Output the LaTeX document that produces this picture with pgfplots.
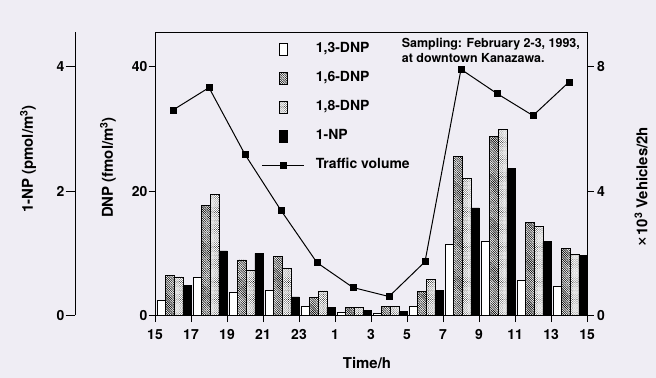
\documentclass[border=0pt]{standalone}
\usepackage{fontspec}
\setmainfont{TeX Gyre Heros}
\usepackage{pgfplots}
\usepackage{pgfplotstable}
\pgfplotsset{compat=1.18}
\usetikzlibrary{patterns.meta}
\definecolor{bg}{RGB}{239,237,244}

% t = start of 2-h interval (h after 15:00); DNP in fmol/m3, 1-NP in pmol/m3
\pgfplotstableread{
t  d13  d16  d18  np
0  2.4  6.5  6.2  0.49
2  6.1  17.7 19.5 1.04
4  3.8  8.95 7.25 1.00
6  4.1  9.5  7.55 0.30
8  1.4  2.95 3.95 0.134
10 0.45 1.35 1.35 0.08
12 0.35 1.5  1.4  0.064
14 1.4  3.9  5.8  0.40
16 11.5 25.6 22.0 1.73
18 11.9 28.8 29.9 2.36
20 5.6  15.0 14.4 1.19
22 4.7  10.8 9.8  0.965
}\bars

% traffic volume, x10^3 vehicles / 2 h
\pgfplotstableread{
t  veh
1  6.61
3  7.33
5  5.18
7  3.38
9  1.70
11 0.90
13 0.61
15 1.73
17 7.92
19 7.14
21 6.43
23 7.51
}\traffic

\tikzset{lblfont/.style={font=\fontsize{15}{18}\selectfont\bfseries}}
\pgfplotsset{
  common/.style={scale only axis, width=432bp, height=283.5bp, anchor=south west,
    tick align=outside, axis line style={line width=0.8bp},
    every tick/.style={black,line width=0.8bp},
    tick label style={font=\fontsize{14}{16}\selectfont\bfseries},
    /pgf/number format/assume math mode=true,
    xmin=0, xmax=24, minor tick num=0},
  sqimg/.style={legend image code/.code={\draw[##1] (-4bp,-6bp) rectangle (4bp,6bp);}},
  lineimg/.style={legend image code/.code={\draw[mark repeat=2,mark phase=2,##1] plot coordinates {(-21bp,0bp)(0bp,0bp)(21bp,0bp)};}},
}

\begin{document}
\begin{tikzpicture}
\fill[bg] (0,0) rectangle (656bp,378bp);
% 1-NP axis (far left)
\begin{axis}[common, at={(75bp,62.5bp)}, axis x line=none, axis y line*=left,
  ymin=0, ymax=4.56, ytick={0,2,4}, major tick length=9.5bp,
  yticklabel style={inner sep=1bp},
  ylabel={1-NP (pmol/m\textsuperscript{3})},
  every axis y label/.style={at={(axis description cs:-0.1088,0.552)}, rotate=90, anchor=center, lblfont}]
\end{axis}
% traffic axis (right)
\begin{axis}[common, at={(155bp,62.5bp)}, axis x line=none, axis y line*=right,
  ymin=0, ymax=9.12, ytick={0,4,8}, major tick length=6.5bp,
  ylabel={{\fontsize{20}{20}\selectfont\mdseries ×}10\textsuperscript{3} Vehicles/2h},
  every axis y label/.style={at={(axis description cs:1.125,0.453)}, rotate=90, anchor=center, lblfont}]
\end{axis}
% main axis
\begin{axis}[common, at={(155bp,62.5bp)},
  ymin=0, ymax=45.6,
  xtick={0,2,...,24}, xticklabels={15,17,19,21,23,1,3,5,7,9,11,13,15},
  ytick={0,20,40}, xtick pos=bottom, ytick pos=left, major tick length=6.5bp,
  yticklabel style={inner sep=1bp},
  xticklabel style={yshift=-4bp},
  xlabel={Time/h},
  every axis x label/.style={at={(axis description cs:0.4907,-0.1676)}, anchor=center, lblfont},
  ylabel={DNP (fmol/m\textsuperscript{3})},
  every axis y label/.style={at={(axis description cs:-0.1088,0.522)}, rotate=90, anchor=center, lblfont},
  legend cell align=left,
  legend style={draw=none, fill=none, at={(axis description cs:0.247,0.962)}, anchor=north west,
    inner sep=0pt, row sep=16bp, column sep=11bp,
    font=\fontsize{14}{16}\selectfont\bfseries,
    nodes={inner sep=0pt, text height=10bp, text depth=3bp}},
]
\addplot[ybar, bar width=0.47, bar shift=0pt, draw=black, line width=0.6bp, fill=white, sqimg]
  table[x expr=\thisrow{t}+0.36, y=d13]{\bars};
\addlegendentry{1,3-DNP}
\addplot[ybar, bar width=0.47, bar shift=0pt, draw=black, line width=0.6bp, fill=white,
  postaction={pattern={Lines[angle=-45,distance=1.6bp,line width=0.6bp]}}, sqimg]
  table[x expr=\thisrow{t}+0.83, y=d16]{\bars};
\addlegendentry{1,6-DNP}
\addplot[ybar, bar width=0.47, bar shift=0pt, draw=black, line width=0.6bp, fill=white,
  postaction={pattern={Dots[distance=1.5bp,radius=0.42bp,angle=45]}}, sqimg]
  table[x expr=\thisrow{t}+1.31, y=d18]{\bars};
\addlegendentry{1,8-DNP}
\addplot[ybar, bar width=0.47, bar shift=0pt, draw=black, line width=0.6bp, fill=black, sqimg]
  table[x expr=\thisrow{t}+1.78, y expr=\thisrow{np}*10]{\bars};
\addlegendentry{1-NP}
\addplot[black, line width=1bp, mark=square*, mark size=3bp, mark options={solid}, lineimg]
  table[x=t, y expr=\thisrow{veh}*5]{\traffic};
\addlegendentry{Traffic volume}
\node[anchor=north west, align=left, inner sep=0pt, font=\fontsize{12.5}{14.4}\selectfont\bfseries]
  at (axis description cs:0.571,0.977) {Sampling: February 2-3, 1993,\\at downtown Kanazawa.};
\end{axis}
\pgfresetboundingbox
\path (0,0) rectangle (656bp,378bp);
\end{tikzpicture}
\end{document}
